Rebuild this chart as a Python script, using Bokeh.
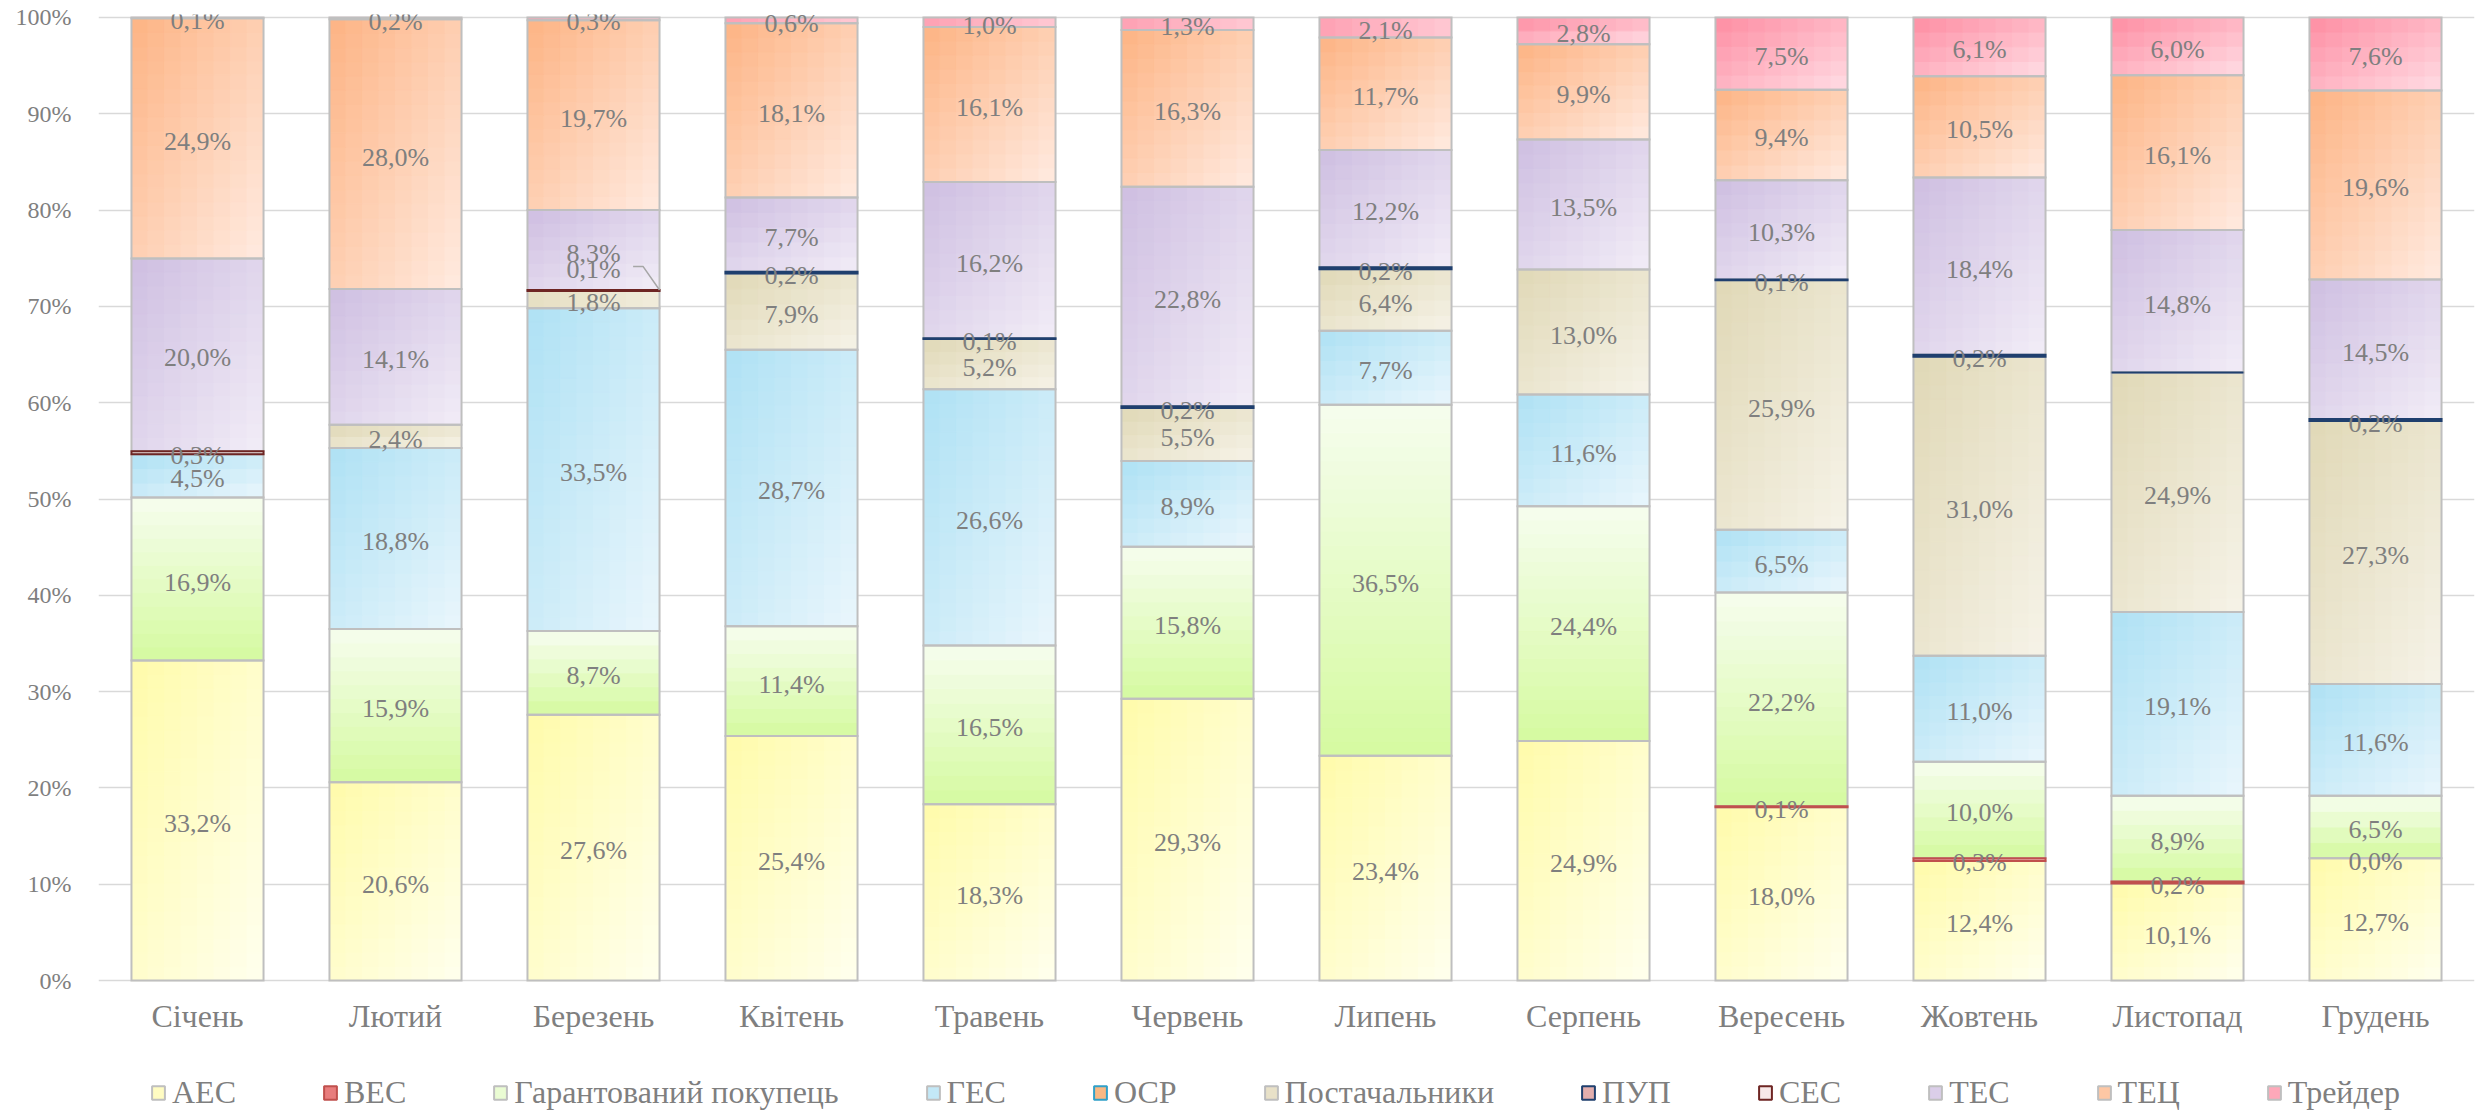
import numpy as np
from bokeh.plotting import figure
from bokeh.layouts import column
from bokeh.models import (ColumnDataSource, Range1d, FixedTicker, Legend, LegendItem,
                          PrintfTickFormatter)
from bokeh.core.properties import value
from bokeh.embed import file_html
from bokeh.resources import INLINE

# ---------------- data ----------------
months = ["Січень", "Лютий", "Березень", "Квітень", "Травень", "Червень",
          "Липень", "Серпень", "Вересень", "Жовтень", "Листопад", "Грудень"]

series = ["АЕС", "ВЕС", "Гарантований покупець", "ГЕС", "ОСР", "Постачальники",
          "ПУП", "СЕС", "ТЕС", "ТЕЦ", "Трейдер"]

aes      = [33.2, 20.6, 27.6, 25.4, 18.3, 29.3, 23.4, 24.9, 18.0, 12.4, 10.1, 12.7]
ves      = [None, None, None, None, None, None, None, None, 0.1, 0.3, 0.2, 0.0]
garant   = [16.9, 15.9, 8.7, 11.4, 16.5, 15.8, 36.5, 24.4, 22.2, 10.0, 8.9, 6.5]
ges      = [4.5, 18.8, 33.5, 28.7, 26.6, 8.9, 7.7, 11.6, 6.5, 11.0, 19.1, 11.6]
osr      = [None] * 12
postach  = [None, 2.4, 1.8, 7.9, 5.2, 5.5, 6.4, 13.0, 25.9, 31.0, 24.9, 27.3]
pup      = [None, None, None, 0.2, 0.1, 0.2, 0.2, None, 0.1, 0.2, 0.0, 0.2]
ses      = [0.3, None, 0.1, None, None, None, None, None, None, None, None, None]
tes      = [20.0, 14.1, 8.3, 7.7, 16.2, 22.8, 12.2, 13.5, 10.3, 18.4, 14.8, 14.5]
tec      = [24.9, 28.0, 19.7, 18.1, 16.1, 16.3, 11.7, 9.9, 9.4, 10.5, 16.1, 19.6]
trader   = [0.1, 0.2, 0.3, 0.6, 1.0, 1.3, 2.1, 2.8, 7.5, 6.1, 6.0, 7.6]

values = {"АЕС": aes, "ВЕС": ves, "Гарантований покупець": garant, "ГЕС": ges,
          "ОСР": osr, "Постачальники": postach, "ПУП": pup, "СЕС": ses,
          "ТЕС": tes, "ТЕЦ": tec, "Трейдер": trader}

hidden_labels = [("Листопад", "ПУП")]
no_outline = [("Грудень", "ВЕС")]

y_ticks = list(range(0, 101, 10))

# ---------------- styles ----------------
GRAY = "#BFBFBF"
style = {
    "АЕС": dict(c0="#FFFBAA", c1="#FFFFEE", mode="diag", line=GRAY),
    "ВЕС": dict(c0="#E05A5A", c1="#F6BDBD", mode="diag", line="#C0504D"),
    "Гарантований покупець": dict(c0="#F6FDEE", c1="#D5FAA0", mode="vert", line=GRAY),
    "ГЕС": dict(c0="#AEE1F4", c1="#EAF6FC", mode="diag", line=GRAY),
    "ОСР": dict(c0="#F8A868", c1="#FCD5B5", mode="diag", line="#31A0C8"),
    "Постачальники": dict(c0="#E0D8B6", c1="#F6F3E8", mode="diag", line=GRAY),
    "ПУП": dict(c0="#D99694", c1="#F2DCDB", mode="diag", line="#1F3F6E"),
    "СЕС": dict(c0="#F2DCDB", c1="#FFFFFF", mode="diag", line="#6E2523"),
    "ТЕС": dict(c0="#CEBEE1", c1="#F2EDF7", mode="diag", line=GRAY),
    "ТЕЦ": dict(c0="#FDB383", c1="#FFEBE1", mode="diag", line=GRAY),
    "Трейдер": dict(c0="#FE8CA2", c1="#FFDDE4", mode="diag", line=GRAY),
}
colored_border = ["ВЕС", "ОСР", "ПУП", "СЕС"]
label_shift = {("Березень", "СЕС"): 2.5}

TEXT = "#7F7F7F"
FONT = "Liberation Serif"
BAR_W = 0.667
PX_PER_PCT = 9.63
COLS = 8
ROW_PX = 14


def hex2rgb(h):
    h = h.lstrip("#")
    return np.array([int(h[i:i + 2], 16) for i in (0, 2, 4)], dtype=float)


def lerp(c0, c1, t):
    a, b = hex2rgb(c0), hex2rgb(c1)
    c = np.clip(np.round(a + (b - a) * t), 0, 255).astype(int)
    return "#%02X%02X%02X" % tuple(c)


n = len(months)
totals = [sum(values[s][i] for s in series if values[s][i] is not None) for i in range(n)]

cells = dict(left=[], right=[], bottom=[], top=[], color=[])
outlines = {s: dict(left=[], right=[], bottom=[], top=[]) for s in series}
labels = dict(x=[], y=[], text=[])
leader_xs, leader_ys = [], []

for i, m in enumerate(months):
    base = 0.0
    xc = i + 0.5
    x0, x1 = xc - BAR_W / 2, xc + BAR_W / 2
    for s in series:
        v = values[s][i]
        if v is None:
            continue
        h = v / totals[i] * 100.0
        b, t = base, base + h
        base = t
        st = style[s]
        if h > 0:
            R = max(1, int(round(h * PX_PER_PCT / ROW_PX)))
            C = COLS if st["mode"] == "diag" else 1
            for r in range(R):
                rb = b + h * r / R
                rt = b + h * (r + 1) / R
                vf = 1 - (r + 0.5) / R
                for c in range(C):
                    u = (c + 0.5) / C
                    tt = (u + vf) / 2 if st["mode"] == "diag" else vf
                    cells["left"].append(x0 + BAR_W * c / C)
                    cells["right"].append(x0 + BAR_W * (c + 1) / C)
                    cells["bottom"].append(rb)
                    cells["top"].append(rt)
                    cells["color"].append(lerp(st["c0"], st["c1"], tt))
        if (m, s) not in no_outline:
            o = outlines[s]
            o["left"].append(x0); o["right"].append(x1)
            o["bottom"].append(b); o["top"].append(t)
        if (m, s) in hidden_labels:
            continue
        ly = (b + t) / 2 + label_shift.get((m, s), 0.0)
        labels["x"].append(xc)
        labels["y"].append(ly)
        labels["text"].append(("%.1f" % v).replace(".", ",") + "%")
        if (m, s) in label_shift:
            leader_xs.append([xc + 0.2, xc + 0.25, x1])
            leader_ys.append([ly, ly, t])

# ---------------- main figure ----------------
p = figure(frame_width=2376, frame_height=969, output_backend="svg", toolbar_location=None,
           x_range=Range1d(0, n), y_range=Range1d(-0.3, 100.3),
           min_border_left=98, min_border_right=4, min_border_top=14, min_border_bottom=77)
p.outline_line_color = None
p.background_fill_color = "white"
p.border_fill_color = "white"

p.xgrid.grid_line_color = None
p.ygrid.grid_line_color = "#D9D9D9"
p.ygrid.grid_line_width = 1.5
p.ygrid.ticker = FixedTicker(ticks=y_ticks)

p.yaxis.ticker = FixedTicker(ticks=y_ticks)
p.yaxis.formatter = PrintfTickFormatter(format="%d%%")
p.xaxis.ticker = FixedTicker(ticks=[i + 0.5 for i in range(n)])
p.xaxis.major_label_overrides = {i + 0.5: m for i, m in enumerate(months)}
for ax in (p.xaxis, p.yaxis):
    ax.axis_line_color = None
    ax.major_tick_line_color = None
    ax.minor_tick_line_color = None
    ax.major_tick_out = 0
    ax.major_tick_in = 0
    ax.major_label_text_font = FONT
    ax.major_label_text_color = TEXT
p.yaxis.major_label_text_font_size = "24px"
p.yaxis.major_label_standoff = 27
p.xaxis.major_label_text_font_size = "32px"
p.xaxis.major_label_standoff = 14

# gradient cells
p.quad(left="left", right="right", bottom="bottom", top="top", source=ColumnDataSource(cells),
       fill_color="color", line_color="color", line_width=1)

# outlines
order = [s for s in series if s not in colored_border] + [s for s in series if s in colored_border]
for s in order:
    p.quad(left="left", right="right", bottom="bottom", top="top",
           source=ColumnDataSource(outlines[s]), fill_color=None,
           line_color=style[s]["line"], line_width=2, line_join="miter")

# leader line
if leader_xs:
    p.multi_line(xs=leader_xs, ys=leader_ys, line_color="#A6A6A6", line_width=1.5)

# data labels
p.text(x="x", y="y", text="text", source=ColumnDataSource(labels),
       text_font=value(FONT), text_font_size="26px", text_color=TEXT,
       text_align="center", text_baseline="middle", y_offset=3)

# ---------------- legend strip ----------------
lg = figure(frame_width=2478, frame_height=52, output_backend="svg", toolbar_location=None,
            x_range=Range1d(0, 1), y_range=Range1d(0, 1), x_axis_type=None, y_axis_type=None,
            min_border=0)
lg.outline_line_color = None
lg.xgrid.grid_line_color = None
lg.ygrid.grid_line_color = None

items = []
for s in series:
    st = style[s]
    r = lg.quad(left=[np.nan], right=[np.nan], bottom=[np.nan], top=[np.nan],
                fill_color=lerp(st["c0"], st["c1"], 0.35), line_color=st["line"], line_width=2)
    items.append(LegendItem(label=s, renderers=[r]))

legend = Legend(items=items, orientation="horizontal", location=(150, 1),
                glyph_width=16, glyph_height=17, label_standoff=6, spacing=86,
                padding=0, margin=0, label_text_font=FONT, label_text_font_size="32px",
                label_text_color=TEXT, border_line_color=None, background_fill_alpha=0)
lg.add_layout(legend, "center")

open("out.html", "w").write(file_html(column(p, lg, spacing=0), INLINE))
